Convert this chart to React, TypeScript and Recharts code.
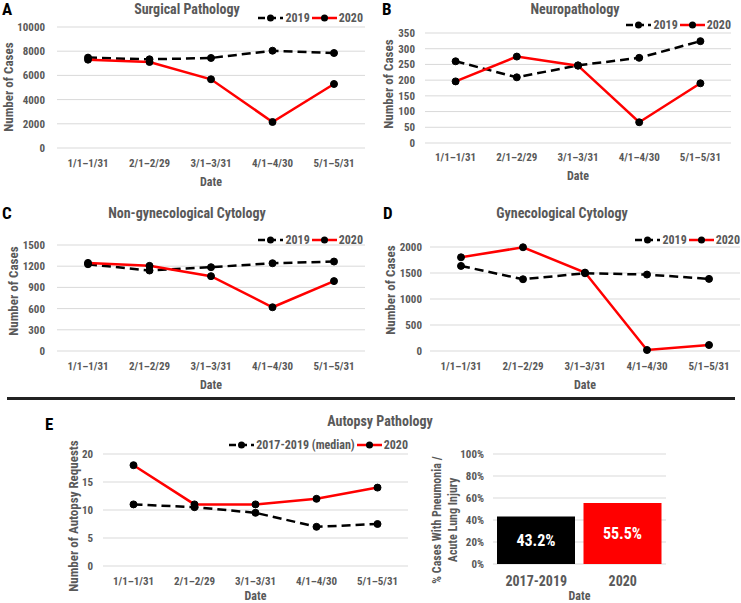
import React from 'react';
import { LineChart, Line, BarChart, Bar, Cell, LabelList, XAxis, YAxis, CartesianGrid } from 'recharts';

const FONT = "'Roboto Condensed', 'Liberation Sans Narrow', 'DejaVu Sans Condensed', Roboto, sans-serif";
const GREY = '#595959';
const GRID = '#d9d9d9';

const MONTHS = ['1/1–1/31', '2/1–2/29', '3/1–3/31', '4/1–4/30', '5/1–5/31'];

const surg2019 = [7470, 7330, 7440, 8040, 7850];
const surg2020 = [7300, 7110, 5680, 2150, 5290];
const neuro2019 = [260, 209, 247, 271, 324];
const neuro2020 = [196, 275, 246, 66, 190];
const nongyn2019 = [1228, 1139, 1186, 1242, 1266];
const nongyn2020 = [1247, 1205, 1059, 619, 989];
const gyn2019 = [1636, 1380, 1495, 1470, 1387];
const gyn2020 = [1802, 1995, 1508, 19, 115];
const autopsyMedian = [11, 10.5, 9.5, 7, 7.5];
const autopsy2020 = [18, 11, 11, 12, 14];

const PNEU_GROUPS = ['2017-2019', '2020'];
const PNEU_VALUES = [43.2, 55.5];
const PNEU_COLORS = ['#000000', '#ff0000'];

const tickStyle = { fill: GREY, fontSize: 11, fontWeight: 700, fontFamily: FONT };

function YTitle(props: any) {
  const { lx, ly, lines, size = 13 } = props;
  const lh = 16;
  const start = -((lines.length - 1) * lh) / 2;
  return (
    <text
      x={lx}
      y={ly}
      transform={`rotate(-90 ${lx} ${ly})`}
      textAnchor="middle"
      dominantBaseline="central"
      fill={GREY}
      style={{ fontSize: size, fontWeight: 700, fontFamily: FONT }}
    >
      {lines.map((l: string, i: number) => (
        <tspan key={i} x={lx} dy={i === 0 ? start : lh}>{l}</tspan>
      ))}
    </text>
  );
}

function LegendBox({ left, right, top, items }: any) {
  return (
    <div style={{ position: 'absolute', left, right, top, display: 'flex', alignItems: 'center', fontFamily: FONT, fontWeight: 700, fontSize: 12, color: GREY, whiteSpace: 'nowrap', lineHeight: '14px' }}>
      {items.map((it: any, i: number) => (
        <React.Fragment key={i}>
          <svg width={25} height={10} style={{ display: 'block', marginLeft: i === 0 ? 0 : 2 }}>
            <line x1={0} y1={5} x2={25} y2={5} stroke={it.color} strokeWidth={2.5} strokeDasharray={it.dash} />
            <circle cx={12.5} cy={5} r={3.5} fill="#000" />
          </svg>
          <span style={{ marginLeft: 2 }}>{it.name}</span>
        </React.Fragment>
      ))}
    </div>
  );
}

function Title({ x, y, text }: any) {
  return (
    <div style={{ position: 'absolute', left: x, top: y, transform: 'translate(-50%, -50%)', fontFamily: FONT, fontWeight: 700, fontSize: 14, color: GREY, whiteSpace: 'nowrap' }}>
      {text}
    </div>
  );
}

function Letter({ x, y, text }: any) {
  return (
    <div style={{ position: 'absolute', left: x, top: y, fontFamily: FONT, fontWeight: 700, fontSize: 17, color: '#000', lineHeight: '17px' }}>
      {text}
    </div>
  );
}

function LinePanel(p: any) {
  const data = MONTHS.map((m, i) => ({ m, a: p.a[i], b: p.b[i] }));
  return (
    <div style={{ position: 'absolute', left: p.left, top: p.top }}>
      <LineChart width={p.width} height={p.height} data={data} margin={p.margin}>
        <CartesianGrid vertical={false} stroke={GRID} />
        <XAxis
          dataKey="m"
          axisLine={false}
          tickLine={false}
          interval={0}
          tick={tickStyle}
          tickMargin={p.xTickMargin}
          height={p.xHeight}
          padding={{ left: p.pad, right: p.pad }}
          label={{ value: 'Date', position: 'insideBottom', offset: p.dateOffset, fill: GREY, style: { fontSize: 12, fontWeight: 700, fontFamily: FONT } }}
        />
        <YAxis
          width={p.yWidth}
          domain={p.domain}
          ticks={p.ticks}
          interval={0}
          axisLine={false}
          tickLine={false}
          tick={tickStyle}
          tickMargin={p.yTickMargin}
          label={<YTitle lx={p.yLabelX} ly={p.yLabelY} lines={p.yLabel} />}
        />
        <Line dataKey="a" stroke="#000" strokeWidth={2.5} strokeDasharray="9 5" dot={{ r: 3.5, fill: '#000', stroke: '#000', strokeWidth: 1, strokeDasharray: '' }} isAnimationActive={false} />
        <Line dataKey="b" stroke="#ff0000" strokeWidth={2.5} dot={{ r: 3.5, fill: '#000', stroke: '#000', strokeWidth: 1 }} isAnimationActive={false} />
      </LineChart>
    </div>
  );
}

const legend2019 = [
  { name: '2019', color: '#000', dash: '7 4' },
  { name: '2020', color: '#ff0000', dash: '' },
];
const legendAutopsy = [
  { name: '2017-2019 (median)', color: '#000', dash: '7 4' },
  { name: '2020', color: '#ff0000', dash: '' },
];

export default function App() {
  const barData = PNEU_GROUPS.map((g, i) => ({ g, v: PNEU_VALUES[i] }));
  return (
    <div style={{ position: 'absolute', left: 0, top: 0, width: 741, height: 603, background: '#fff', overflow: 'hidden' }}>
      <LinePanel
        left={0} top={0} width={370} height={190}
        margin={{ top: 27, right: 5, left: 0, bottom: 0 }}
        yWidth={57} xHeight={42} pad={31} xTickMargin={5} yTickMargin={6} dateOffset={4}
        domain={[0, 10000]} ticks={[0, 2000, 4000, 6000, 8000, 10000]}
        a={surg2019} b={surg2020}
        yLabel={['Number of Cases']} yLabelX={8} yLabelY={87}
      />
      <LinePanel
        left={370} top={0} width={371} height={190}
        margin={{ top: 33, right: 10, left: 0, bottom: 0 }}
        yWidth={55} xHeight={47} pad={30.6} xTickMargin={4} yTickMargin={4} dateOffset={10}
        domain={[0, 350]} ticks={[0, 50, 100, 150, 200, 250, 300, 350]}
        a={neuro2019} b={neuro2020}
        yLabel={['Number of Cases']} yLabelX={18} yLabelY={84}
      />
      <LinePanel
        left={0} top={190} width={370} height={210}
        margin={{ top: 55, right: 5, left: 0, bottom: 0 }}
        yWidth={57} xHeight={49} pad={31} xTickMargin={5} yTickMargin={6} dateOffset={11}
        domain={[0, 1500]} ticks={[0, 300, 600, 900, 1200, 1500]}
        a={nongyn2019} b={nongyn2020}
        yLabel={['Number of Cases']} yLabelX={13} yLabelY={101}
      />
      <LinePanel
        left={370} top={190} width={371} height={210}
        margin={{ top: 57, right: 1, left: 0, bottom: 0 }}
        yWidth={60} xHeight={49} pad={31} xTickMargin={5} yTickMargin={2} dateOffset={11}
        domain={[0, 2000]} ticks={[0, 500, 1000, 1500, 2000]}
        a={gyn2019} b={gyn2020}
        yLabel={['Number of Cases']} yLabelX={20} yLabelY={100}
      />
      <LinePanel
        left={0} top={400} width={460} height={203}
        margin={{ top: 54, right: 52, left: 0, bottom: 0 }}
        yWidth={103} xHeight={37} pad={30.5} xTickMargin={5} yTickMargin={4} dateOffset={3}
        domain={[0, 20]} ticks={[0, 5, 10, 15, 20]}
        a={autopsyMedian} b={autopsy2020}
        yLabel={['Number of Autopsy Requests']} yLabelX={73} yLabelY={116}
      />
      <div style={{ position: 'absolute', left: 420, top: 400 }}>
        <BarChart width={321} height={203} data={barData} margin={{ top: 54, right: 75, left: 0, bottom: 0 }}>
          <CartesianGrid vertical={false} stroke={GRID} />
          <XAxis
            dataKey="g"
            axisLine={false}
            tickLine={false}
            tick={{ ...tickStyle, fontSize: 14 }}
            tickMargin={6}
            height={39}
            label={{ value: 'Date', position: 'insideBottom', offset: 3, fill: GREY, style: { fontSize: 12, fontWeight: 700, fontFamily: FONT } }}
          />
          <YAxis
            width={73}
            domain={[0, 100]}
            ticks={[0, 20, 40, 60, 80, 100]}
            interval={0}
            tickFormatter={(v: number) => `${v}%`}
            axisLine={false}
            tickLine={false}
            tick={tickStyle}
            tickMargin={3}
            label={<YTitle lx={25} ly={120} size={12} lines={['% Cases With Pneumonia /', 'Acute Lung Injury']} />}
          />
          <Bar dataKey="v" barSize={78} isAnimationActive={false}>
            {barData.map((d, i) => (
              <Cell key={d.g} fill={PNEU_COLORS[i]} />
            ))}
            <LabelList
              dataKey="v"
              position="center"
              formatter={(v: any) => `${Number(v).toFixed(1)}%`}
              fill="#fff"
              style={{ fontSize: 16, fontWeight: 700, fontFamily: FONT }}
            />
          </Bar>
        </BarChart>
      </div>

      <Letter x={2} y={1} text="A" />
      <Letter x={382} y={1} text="B" />
      <Letter x={2} y={205} text="C" />
      <Letter x={383} y={205} text="D" />
      <Letter x={45} y={416} text="E" />

      <Title x={187} y={9} text="Surgical Pathology" />
      <Title x={575} y={9} text="Neuropathology" />
      <Title x={187} y={213} text="Non-gynecological Cytology" />
      <Title x={562} y={213} text="Gynecological Cytology" />
      <Title x={380} y={421} text="Autopsy Pathology" />

      <LegendBox right={741 - 363} top={11} items={legend2019} />
      <LegendBox right={741 - 731} top={18} items={legend2019} />
      <LegendBox right={741 - 363} top={233} items={legend2019} />
      <LegendBox right={1} top={233} items={legend2019} />
      <LegendBox right={741 - 408} top={438} items={legendAutopsy} />

      <div style={{ position: 'absolute', left: 7, top: 397, width: 728, height: 3, background: '#222' }} />
    </div>
  );
}
